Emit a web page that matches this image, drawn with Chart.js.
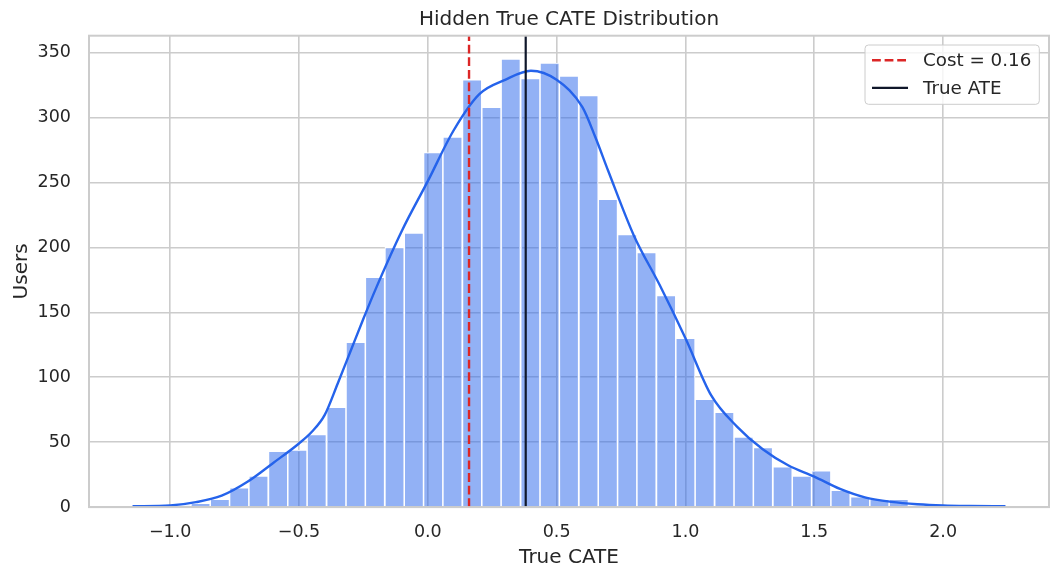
<!DOCTYPE html>
<html>
<head>
<meta charset="utf-8">
<script src="https://cdn.jsdelivr.net/npm/chart.js@4.4.1/dist/chart.umd.min.js"></script>
<style>
html,body{margin:0;padding:0;background:#ffffff;}
#wrap{width:1060px;height:580px;position:relative;}
</style>
</head>
<body>
<div id="wrap"><canvas id="c"></canvas></div>
<script>
// ---- data ----
const binCenters = [-1.108,-1.033,-0.958,-0.882,-0.807,-0.732,-0.657,-0.581,-0.506,-0.431,
  -0.355,-0.280,-0.205,-0.129,-0.054,0.021,0.096,0.172,0.247,0.322,
  0.398,0.473,0.548,0.624,0.699,0.774,0.849,0.925,1.000,1.075,
  1.151,1.226,1.301,1.377,1.452,1.527,1.602,1.678,1.753,1.828,
  1.904,1.979,2.054,2.130,2.205];
const userCounts = [1,0,1,3,6,15,24,43,44,56,
  77,127,177,200,211,273,285,329,308,345,
  330,342,332,317,237,210,196,163,130,83,
  73,54,46,31,24,28,13,8,6,6,
  1,1,1,0,1];
const kdeX = [-1.146,-1.0,-0.9,-0.8,-0.7,-0.6,-0.5,-0.45,-0.4,-0.35,-0.3,-0.25,-0.2,-0.1,0.0,0.1,0.2,0.3,0.4,0.5,0.6,0.65,0.7,0.8,0.9,1.0,1.1,1.2,1.3,1.4,1.5,1.6,1.7,1.8,1.9,2.0,2.1,2.242];
const kdeY = [0.6,1.2,3.8,8.8,19.5,34,49,58,71,95,120,145,169,213,251,290,318,329,336,329,308,285,259,209,171,130,86,62,44.5,32,23.5,14,7.3,4,2.2,1.2,0.8,0.6];
const costValue = 0.16;
const ateValue = 0.38;
const xTicks = [-1.0,-0.5,0.0,0.5,1.0,1.5,2.0];
const yTicks = [0,50,100,150,200,250,300,350];
const xRange = [-1.315, 2.411];
const yRange = [0, 363];
const labels = {
  title: 'Hidden True CATE Distribution',
  x: 'True CATE',
  y: 'Users',
  cost: 'Cost = 0.16',
  ate: 'True ATE'
};

// ---- chart ----
const FONT = "'DejaVu Sans', 'Liberation Sans', sans-serif";
const TXT = '#262626';
Chart.defaults.font.family = FONT;
Chart.defaults.color = TXT;

const fmt = v => Number(v).toFixed(1).replace('-', '\u2212');

const spinePlugin = {
  id: 'spines',
  afterDatasetsDraw(chart) {
    const {ctx, chartArea: a} = chart;
    ctx.save();
    ctx.strokeStyle = '#cccccc';
    ctx.lineWidth = 2;
    ctx.strokeRect(a.left, a.top, a.right - a.left, a.bottom - a.top);
    ctx.restore();
  }
};

const legendPlugin = {
  id: 'boxLegend',
  afterDraw(chart) {
    const {ctx, chartArea: a} = chart;
    const items = chart.data.datasets.filter(d => d.legendRank)
      .sort((p, q) => p.legendRank - q.legendRank);
    const f = 18.3;
    ctx.save();
    ctx.font = f + 'px ' + FONT;
    const tw = Math.max(...items.map(d => ctx.measureText(d.label).width));
    const w = 7 + 36 + 15 + tw + 8;
    const h = 59.3;
    const x0 = a.right - 9.7 - w;
    const y0 = a.top + 9.3;
    ctx.beginPath();
    if (ctx.roundRect) ctx.roundRect(x0, y0, w, h, 3.5); else ctx.rect(x0, y0, w, h);
    ctx.fillStyle = 'rgba(255,255,255,0.8)';
    ctx.fill();
    ctx.strokeStyle = '#cccccc';
    ctx.lineWidth = 1;
    ctx.stroke();
    items.forEach((d, i) => {
      const cy = y0 + 15.3 + i * 27.5;
      ctx.beginPath();
      ctx.setLineDash(d.borderDash || []);
      ctx.strokeStyle = d.borderColor;
      ctx.lineWidth = d.borderWidth;
      ctx.moveTo(x0 + 7, cy);
      ctx.lineTo(x0 + 43, cy);
      ctx.stroke();
      ctx.setLineDash([]);
      ctx.fillStyle = TXT;
      ctx.textBaseline = 'middle';
      ctx.textAlign = 'left';
      ctx.fillText(d.label, x0 + 58, cy + 1);
    });
    ctx.restore();
  }
};

new Chart(document.getElementById('c'), {
  type: 'bar',
  data: {
    datasets: [
      {
        type: 'line',
        label: labels.ate,
        legendRank: 2,
        data: [{x: ateValue, y: yRange[0]}, {x: ateValue, y: yRange[1]}],
        borderColor: '#0f172a',
        borderWidth: 2.2,
        pointRadius: 0,
        order: 1
      },
      {
        type: 'line',
        label: labels.cost,
        legendRank: 1,
        data: [{x: costValue, y: yRange[0]}, {x: costValue, y: yRange[1]}],
        borderColor: '#dc2626',
        borderWidth: 2.4,
        borderDash: [8.8, 3.8],
        pointRadius: 0,
        order: 2
      },
      {
        type: 'line',
        label: 'KDE',
        data: kdeX.map((x, i) => ({x, y: kdeY[i]})),
        borderColor: '#2563eb',
        borderWidth: 2.4,
        pointRadius: 0,
        cubicInterpolationMode: 'monotone',
        order: 3
      },
      {
        type: 'bar',
        label: 'Users',
        data: binCenters.map((x, i) => ({x, y: userCounts[i]})),
        backgroundColor: 'rgba(37,99,235,0.5)',
        borderColor: '#ffffff',
        borderWidth: 1.1,
        barPercentage: 1,
        categoryPercentage: 1,
        order: 4
      }
    ]
  },
  options: {
    responsive: true,
    maintainAspectRatio: false,
    animation: false,
    devicePixelRatio: 1,
    layout: {padding: {left: 0, right: 11, top: 0, bottom: 0}},
    plugins: {
      legend: {display: false},
      tooltip: {enabled: false},
      title: {
        display: true,
        text: labels.title,
        fullSize: false,
        color: TXT,
        font: {size: 20, weight: 'normal', family: FONT},
        padding: {top: 8, bottom: 3.7}
      }
    },
    scales: {
      x: {
        type: 'linear',
        min: xRange[0],
        max: xRange[1],
        offset: false,
        afterBuildTicks: s => { s.ticks = xTicks.map(v => ({value: v})); },
        afterFit: s => { s.height = 72.9; },
        ticks: {
          callback: v => fmt(v),
          font: {size: 17.5},
          color: TXT,
          padding: 15,
          maxRotation: 0,
          autoSkip: false,
          includeBounds: false
        },
        grid: {color: '#cccccc', lineWidth: 1.6, drawTicks: false, offset: false},
        border: {display: false},
        title: {
          display: true,
          text: labels.x,
          color: TXT,
          font: {size: 20},
          padding: {top: 0, bottom: 10}
        }
      },
      y: {
        type: 'linear',
        min: yRange[0],
        max: yRange[1],
        afterBuildTicks: s => { s.ticks = yTicks.map(v => ({value: v})); },
        afterFit: s => { s.width = 89; },
        ticks: {
          font: {size: 17.5},
          color: TXT,
          padding: 18,
          autoSkip: false,
          includeBounds: false
        },
        grid: {color: '#cccccc', lineWidth: 1.6, drawTicks: false},
        border: {display: false},
        title: {
          display: true,
          text: labels.y,
          color: TXT,
          font: {size: 20},
          padding: {top: 10, bottom: 0}
        }
      }
    }
  },
  plugins: [spinePlugin, legendPlugin]
});
</script>
</body>
</html>
